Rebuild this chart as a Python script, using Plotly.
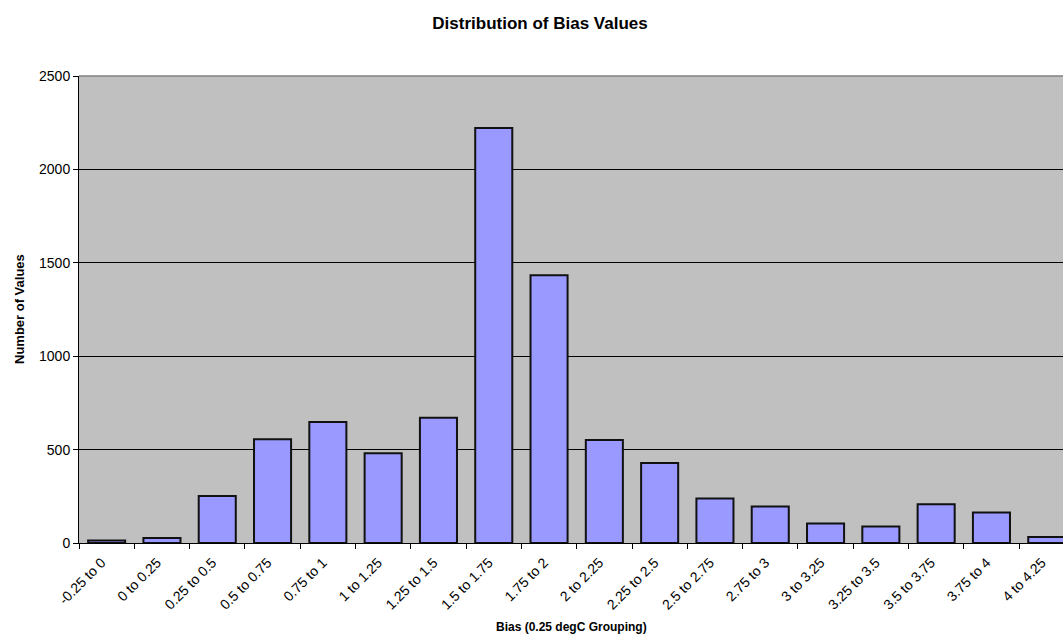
import plotly.graph_objects as go

# Histogram of bias values in 0.25 degC bins
categories = [
    "-0.25 to 0", "0 to 0.25", "0.25 to 0.5", "0.5 to 0.75", "0.75 to 1",
    "1 to 1.25", "1.25 to 1.5", "1.5 to 1.75", "1.75 to 2", "2 to 2.25",
    "2.25 to 2.5", "2.5 to 2.75", "2.75 to 3", "3 to 3.25", "3.25 to 3.5",
    "3.5 to 3.75", "3.75 to 4", "4 to 4.25",
]
counts = [14, 27, 251, 555, 648, 480, 671, 2221, 1434, 551,
          428, 238, 196, 105, 88, 207, 163, 32]
y_ticks = [0, 500, 1000, 1500, 2000, 2500]

W, H = 1063, 641
left, right, top, bottom = 79, 0, 76, 98
plot_w = W - left - right
plot_h = H - top - bottom

fig = go.Figure(go.Bar(
    x=categories,
    y=counts,
    marker=dict(color="#9999FF", line=dict(color="#111111", width=2)),
))

font = "Liberation Sans, Arial, sans-serif"

fig.update_layout(
    width=W, height=H,
    margin=dict(l=left, r=right, t=top, b=bottom, pad=0),
    paper_bgcolor="white",
    plot_bgcolor="#C0C0C0",
    bargap=0.33,
    showlegend=False,
    font=dict(family=font, size=14, color="black"),
    title=dict(
        text="<b>Distribution of Bias Values</b>",
        x=540 / W, xref="container", xanchor="center",
        y=1 - 23 / H, yref="container", yanchor="middle",
        font=dict(family=font, size=17, color="black"),
    ),
    xaxis=dict(
        type="category",
        range=[-0.5, -0.5 + plot_w / 55.3],
        tickson="boundaries",
        ticks="outside", ticklen=5, tickcolor="black", tickwidth=1,
        tickangle=-45,
        tickfont=dict(family=font, size=14, color="black"),
        ticklabelstandoff=5, ticklabelshift=-5,
        showline=True, linecolor="black", linewidth=1,
        showgrid=False, zeroline=False,
    ),
    yaxis=dict(
        range=[0, 2500],
        tickmode="array", tickvals=y_ticks,
        ticktext=[str(v) for v in y_ticks],
        ticks="outside", ticklen=5, tickcolor="black", tickwidth=1,
        tickfont=dict(family=font, size=14, color="black"),
        showline=True, linecolor="black", linewidth=1,
        showgrid=True, gridcolor="black", gridwidth=1,
        zeroline=False,
    ),
    annotations=[
        dict(text="<b>Bias (0.25 degC Grouping)</b>", showarrow=False,
             xref="paper", yref="paper",
             x=(571 - left) / plot_w, y=-(627 - (top + plot_h)) / plot_h,
             xanchor="center", yanchor="middle",
             font=dict(family=font, size=12, color="black")),
        dict(text="<b>Number of Values</b>", showarrow=False, textangle=-90,
             xref="paper", yref="paper",
             x=(19 - left) / plot_w, y=(top + plot_h - 309) / plot_h,
             xanchor="center", yanchor="middle",
             font=dict(family=font, size=13, color="black")),
    ],
    shapes=[dict(type="line", xref="paper", yref="paper",
                 x0=0, x1=1, y0=1, y1=1,
                 line=dict(color="#808080", width=1.5))],
)

fig.write_html("out.html")
